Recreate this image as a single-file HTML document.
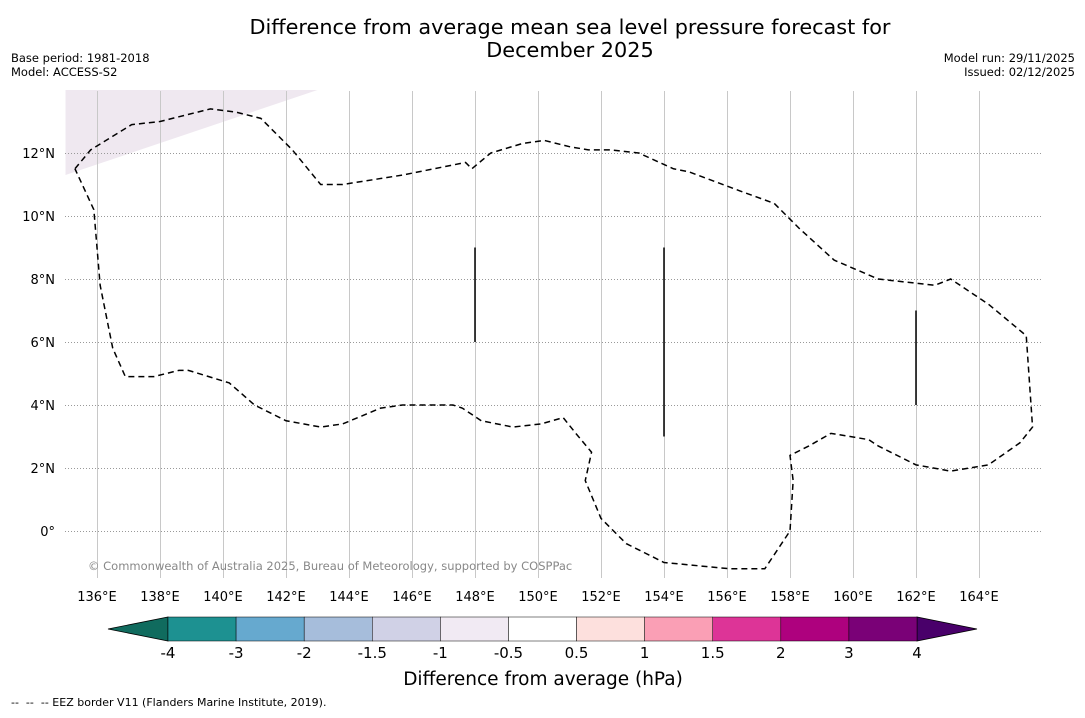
<!DOCTYPE html>
<html><head><meta charset="utf-8"><style>
body{margin:0;background:#fff;}
svg{font-family:"DejaVu Sans","Liberation Sans",sans-serif;}
</style></head><body>
<svg id="s" width="1085" height="713" xmlns="http://www.w3.org/2000/svg">
<text x="570" y="34" font-size="20.8" text-anchor="middle">Difference from average mean sea level pressure forecast for</text>
<text x="570" y="57" font-size="20.8" text-anchor="middle">December 2025</text>
<text x="11" y="62" font-size="11.5">Base period: 1981-2018</text>
<text x="11" y="76" font-size="11.5">Model: ACCESS-S2</text>
<text x="1075" y="62" font-size="11.5" text-anchor="end">Model run: 29/11/2025</text>
<text x="1075" y="76" font-size="11.5" text-anchor="end">Issued: 02/12/2025</text>
<g id="map"></g>
<g id="cb"></g>
<text x="543" y="685" font-size="18.5" text-anchor="middle">Difference from average (hPa)</text>
<text x="11" y="706" font-size="11" xml:space="preserve">--  --  -- EEZ border V11 (Flanders Marine Institute, 2019).</text>
</svg>
<script>
const lonTicks=[136,138,140,142,144,146,148,150,152,154,156,158,160,162,164];
const latTicks=[0,2,4,6,8,10,12];
const cbLevels=["-4","-3","-2","-1.5","-1","-0.5","0.5","1","1.5","2","3","4"];
const cbColors=["#1d9191","#66a9cf","#a6bddb","#d0d1e6","#f1eaf3","#ffffff","#fde0dd","#fa9fb5","#dd3497","#ae017e","#7a0177"];
const cbLow="#106b5e", cbHigh="#49006a";
const eezLon=[135.3,135.8,137.1,138.0,139.6,140.4,141.2,142.2,143.1,143.8,145.7,147.7,147.9,148.5,149.5,150.2,151.0,151.6,152.3,153.2,154.3,154.8,156.4,157.5,158.3,159.4,160.8,162.6,163.1,164.3,165.5,165.7,165.3,164.3,163.1,162.0,160.8,160.5,159.3,158.6,158.0,158.1,158.0,157.2,156.1,154.0,152.8,152.0,151.5,151.7,151.2,150.8,150.1,149.2,148.2,147.6,147.3,145.7,145.0,143.8,143.1,142.0,141.0,140.2,138.9,138.6,137.8,136.9,136.5,136.1,135.9,135.3];
const eezLat=[11.5,12.1,12.9,13.0,13.4,13.3,13.1,12.1,11.0,11.0,11.3,11.7,11.5,12.0,12.3,12.4,12.2,12.1,12.1,12.0,11.5,11.4,10.8,10.4,9.6,8.6,8.0,7.8,8.0,7.2,6.2,3.3,2.8,2.1,1.9,2.1,2.7,2.9,3.1,2.7,2.4,1.6,0.0,-1.2,-1.2,-1.0,-0.4,0.4,1.6,2.5,3.1,3.6,3.4,3.3,3.5,3.9,4.0,4.0,3.9,3.4,3.3,3.5,4.0,4.7,5.1,5.1,4.9,4.9,5.8,7.8,10.2,11.5];
const shadeLon=[135,143,135], shadeLat=[14,14,11.3];
const barLon=[148,154,162], barLat0=[6,3,4], barLat1=[9,9,7];
const NS="http://www.w3.org/2000/svg";
const X0=65,X1=1042,Y0=91,Y1=578;
const xs=l=>97+(l-136)*31.5, ys=l=>531-l*31.5;
function mk(p,t,a){const e=document.createElementNS(NS,t);for(const k in a)e.setAttribute(k,a[k]);p.appendChild(e);return e;}
const map=document.getElementById('map');
const sh=mk(map,'polygon',{points:shadeLon.map((l,i)=>xs(l)+','+ys(shadeLat[i])).join(' '),fill:'#efe8f0'});


lonTicks.forEach(l=>{
 const xx=Math.round(xs(l))+0.5;
 const g=mk(map,'line',{x1:xx,x2:xx,y1:Y0,y2:Y1,stroke:'#c8c8c8','stroke-width':1,'shape-rendering':'crispEdges'});
 
 
 const t=mk(map,'text',{x:xs(l),y:601,'font-size':13,'text-anchor':'middle'});t.textContent=l+'°E';
 
 
});
latTicks.forEach(l=>{
 const yy=Math.round(ys(l))+0.5;
 const g=mk(map,'line',{x1:X0,x2:X1,y1:yy,y2:yy,stroke:'#999','stroke-width':1,'stroke-dasharray':'1,2','shape-rendering':'crispEdges'});
 
 
 const t=mk(map,'text',{x:55,y:ys(l)+5,'font-size':13,'text-anchor':'end'});t.textContent=l===0?'0°':l+'°N';
 
 
});
const ez=mk(map,'polyline',{points:eezLon.map((l,i)=>xs(l)+','+ys(eezLat[i])).join(' '),fill:'none',stroke:'#000','stroke-width':1.5,'stroke-dasharray':'6,4'});


barLon.forEach((l,i)=>{
 const b=mk(map,'line',{x1:xs(l),x2:xs(l),y1:ys(barLat0[i]),y2:ys(barLat1[i]),stroke:'#000','stroke-width':1.5});
 
 
});
const cr=mk(map,'text',{x:88,y:570,'font-size':11.5,fill:'#888'});cr.textContent='© Commonwealth of Australia 2025, Bureau of Meteorology, supported by COSPPac';


const cb=document.getElementById('cb');
const cx0=168,cx1=917,cy=617,ch=24,w=(cx1-cx0)/cbColors.length;
const lo=mk(cb,'polygon',{points:`108,${cy+ch/2} ${cx0},${cy} ${cx0},${cy+ch}`,fill:cbLow,stroke:'#000','stroke-width':0.8});


const hi=mk(cb,'polygon',{points:`977,${cy+ch/2} ${cx1},${cy} ${cx1},${cy+ch}`,fill:cbHigh,stroke:'#000','stroke-width':0.8});


cbColors.forEach((c,i)=>{
 const r=mk(cb,'rect',{x:cx0+i*w,y:cy,width:w,height:ch,fill:c,stroke:'#000','stroke-width':0.5});
 
 
});
cbLevels.forEach((v,i)=>{
 const t=mk(cb,'text',{x:cx0+i*w,y:658,'font-size':15,'text-anchor':'middle'});t.textContent=v;
 
 
});
</script>
</body></html>
